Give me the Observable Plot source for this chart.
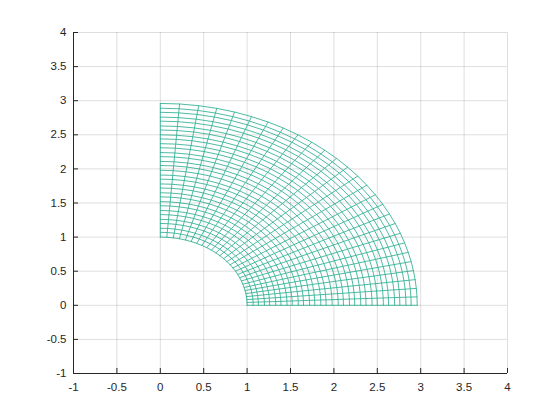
<!DOCTYPE html>
<html>
<head>
<meta charset="utf-8">
<script src="https://cdn.jsdelivr.net/npm/d3@7"></script>
<script src="https://cdn.jsdelivr.net/npm/@observablehq/plot@0.6"></script>
<style>
  html, body { margin: 0; padding: 0; background: #ffffff; }
  #chart { width: 560px; height: 420px; }
</style>
</head>
<body>
<div id="chart"></div>
<script>
// Tick labels
const xTicks = [-1, -0.5, 0, 0.5, 1, 1.5, 2, 2.5, 3, 3.5, 4];
const yTicks = [-1, -0.5, 0, 0.5, 1, 1.5, 2, 2.5, 3, 3.5, 4];

// Mesh node radii
const radii = [1, 1.07, 1.13, 1.2, 1.26, 1.33, 1.39, 1.46, 1.52, 1.59, 1.65, 1.72,
  1.78, 1.85, 1.91, 1.98, 2.05, 2.11, 2.18, 2.24, 2.31, 2.37, 2.44, 2.5, 2.57,
  2.63, 2.7, 2.76, 2.83, 2.89, 2.96];

// Mesh node angles in degrees
const anglesDeg = [0, 2.4, 4.8, 7.3, 9.9, 12.5, 15.2, 18.0, 20.9, 23.9, 26.9,
  30.0, 33.2, 36.5, 39.8, 43.2, 46.7, 50.2, 53.9, 57.6, 61.4, 65.2, 69.2, 73.2,
  77.3, 81.4, 85.7, 90];

const meshColor = "#21a98c";

// Build mesh polylines (arcs of constant r and rays of constant angle)
const meshLines = [];
radii.forEach((r, i) => {
  anglesDeg.forEach(a => {
    const t = a * Math.PI / 180;
    meshLines.push({x: r * Math.cos(t), y: r * Math.sin(t), g: "arc" + i});
  });
});
anglesDeg.forEach((a, j) => {
  const t = a * Math.PI / 180;
  radii.forEach(r => {
    meshLines.push({x: r * Math.cos(t), y: r * Math.sin(t), g: "ray" + j});
  });
});

const W = 560, H = 420;
const mL = 73, mR = 53, mT = 32, mB = 47;
const innerW = W - mL - mR, innerH = H - mT - mB;
const tickLen = 5;

const chart = Plot.plot({
  width: W,
  height: H,
  marginLeft: mL,
  marginRight: mR,
  marginTop: mT,
  marginBottom: mB,
  style: {fontFamily: "'Liberation Sans', Arial, sans-serif", fontSize: "11.5px", color: "#262626", background: "#ffffff"},
  x: {domain: [-1, 4], ticks: xTicks},
  y: {domain: [-1, 4], ticks: yTicks},
  marks: [
    Plot.gridX(xTicks, {stroke: "#000000", strokeOpacity: 0.13, strokeWidth: 1}),
    Plot.gridY(yTicks, {stroke: "#000000", strokeOpacity: 0.13, strokeWidth: 1}),
    Plot.line(meshLines, {x: "x", y: "y", z: "g", stroke: meshColor, strokeWidth: 0.8}),
    Plot.ruleX([-1], {stroke: "#262626", strokeWidth: 1}),
    Plot.ruleY([-1], {stroke: "#262626", strokeWidth: 1}),
    Plot.tickX(xTicks, {x: d => d, stroke: "#262626", insetTop: innerH - tickLen}),
    Plot.tickY(yTicks, {y: d => d, stroke: "#262626", insetRight: innerW - tickLen}),
    Plot.axisX(xTicks, {anchor: "bottom", tickSize: 0, tickPadding: 9, tickFormat: d => String(d), label: null}),
    Plot.axisY(yTicks, {anchor: "left", tickSize: 0, tickPadding: 7, tickFormat: d => String(d), label: null})
  ]
});
document.getElementById("chart").appendChild(chart);
</script>
</body>
</html>
